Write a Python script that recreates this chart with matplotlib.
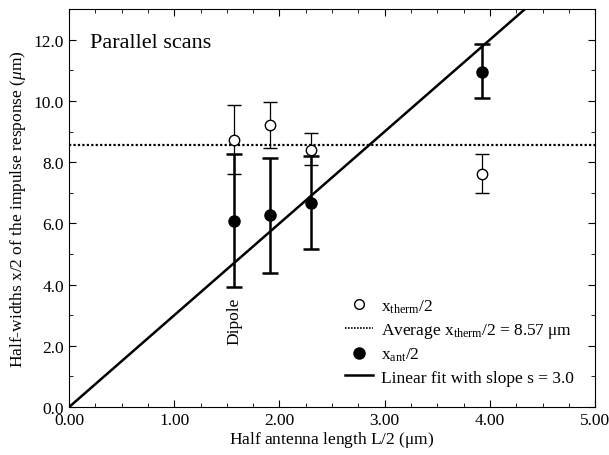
import numpy as np
import matplotlib
matplotlib.use("Agg")
import matplotlib.pyplot as plt
from matplotlib.lines import Line2D
from matplotlib.ticker import MultipleLocator, FormatStrFormatter

plt.rcParams['font.family'] = ['Liberation Serif', 'DejaVu Serif']
plt.rcParams['mathtext.fontset'] = 'custom'
plt.rcParams['mathtext.rm'] = 'Liberation Serif'
plt.rcParams['mathtext.it'] = 'Liberation Serif:italic'

# half antenna length L/2 (um)
half_length = [1.57, 1.91, 2.30, 3.92]

# thermal half-widths with asymmetric error bars
therm = [8.72, 9.20, 8.40, 7.60]
therm_hi = [9.85, 9.95, 8.95, 8.25]
therm_lo = [7.60, 8.45, 7.90, 7.00]

# antenna half-widths
ant = [6.08, 6.28, 6.68, 10.95]
ant_hi = [8.25, 8.15, 8.20, 11.85]
ant_lo = [3.92, 4.37, 5.15, 10.08]

avg_therm = 8.57
slope = 3.0
fit_x = [0.0, 5.0]

fig = plt.figure(figsize=(6.09, 4.56), dpi=100)
ax = fig.add_axes([0.1133, 0.105, 0.864, 0.873])

therm_err = [np.subtract(therm, therm_lo), np.subtract(therm_hi, therm)]
ant_err = [np.subtract(ant, ant_lo), np.subtract(ant_hi, ant)]

ax.axhline(avg_therm, color='black', linestyle=(0, (1, 1)), lw=1.6, zorder=2)
ax.plot(fit_x, np.multiply(fit_x, slope), color='black', lw=1.8, zorder=2)

ax.errorbar(half_length, ant, yerr=ant_err, fmt='o', color='black',
            ms=8, lw=1.8, capsize=6, capthick=1.8, zorder=3)
ax.errorbar(half_length, therm, yerr=therm_err, fmt='o', mfc='white',
            mec='black', color='black', ms=7.5, mew=1.0, lw=0.9,
            capsize=5, capthick=0.9, zorder=4)

ax.text(1.57, 3.6, 'Dipole', rotation=90, ha='center', va='top', fontsize=12.5)
ax.text(0.2, 11.9, 'Parallel scans', fontsize=16, ha='left', va='center')

ax.set_xlim(0, 5)
ax.set_ylim(0, 13)
ax.xaxis.set_major_locator(MultipleLocator(1))
ax.xaxis.set_minor_locator(MultipleLocator(0.25))
ax.yaxis.set_major_locator(MultipleLocator(2))
ax.yaxis.set_minor_locator(MultipleLocator(1))
ax.xaxis.set_major_formatter(FormatStrFormatter('%.2f'))
ax.yaxis.set_major_formatter(FormatStrFormatter('%.1f'))
ax.tick_params(which='both', direction='in', top=True, right=True, labelsize=12.5)
ax.tick_params(which='major', length=5)
ax.tick_params(which='minor', length=3)

ax.set_xlabel(r'Half antenna length L/2 ($\mathrm{\mu}$m)', fontsize=12.5, labelpad=1)
ax.set_ylabel(r'Half-widths x/2 of the impulse response ($\mu$m)', fontsize=12.5)

handles = [
    Line2D([], [], ls='none', marker='o', mfc='white', mec='black', ms=7, mew=1.0),
    Line2D([], [], color='black', ls=(0, (1, 0.8)), lw=1.2),
    Line2D([], [], ls='none', marker='o', color='black', ms=8),
    Line2D([], [], color='black', lw=1.8),
]
labels = [
    r'x$_{\rm therm}$/2',
    r'Average x$_{\rm therm}$/2 = 8.57 $\mathrm{\mu}$m',
    r'x$_{\rm ant}$/2',
    'Linear fit with slope s = 3.0',
]
ax.legend(handles, labels, loc='lower right', frameon=False, fontsize=12.5,
          handlelength=1.6, handletextpad=0.5, labelspacing=0.35,
          bbox_to_anchor=(0.99, 0.015))

fig.savefig('out.png', dpi=100)
